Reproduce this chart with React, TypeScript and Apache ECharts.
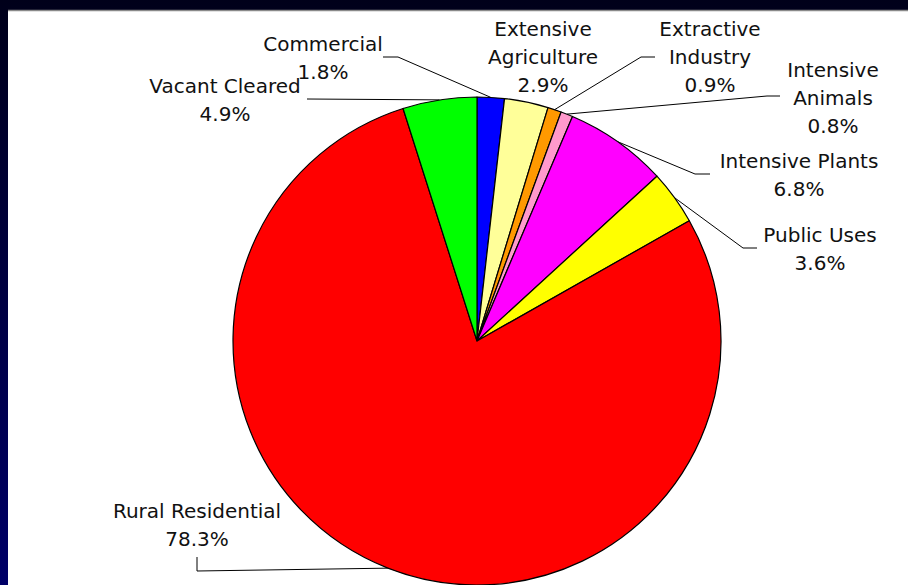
import React, { useEffect, useRef } from 'react';
import * as echarts from 'echarts';

const categories = [
  'Commercial',
  'Extensive Agriculture',
  'Extractive Industry',
  'Intensive Animals',
  'Intensive Plants',
  'Public Uses',
  'Rural Residential',
  'Vacant Cleared',
];
const labelNames = [
  'Commercial',
  'Extensive\nAgriculture',
  'Extractive\nIndustry',
  'Intensive\nAnimals',
  'Intensive Plants',
  'Public Uses',
  'Rural Residential',
  'Vacant Cleared',
];
const shares = [1.8, 2.9, 0.9, 0.8, 6.8, 3.6, 78.3, 4.9];
const colors = ['#0000FF', '#FFFF99', '#FF9900', '#FF99CC', '#FF00FF', '#FFFF00', '#FF0000', '#00FF00'];

// label placement (pixels)
const labelCenters = [
  [323, 58],
  [543, 57],
  [710, 57],
  [833, 97.5],
  [799, 175],
  [820, 248.5],
  [197, 525],
  [225, 100],
];
const leaderBends: number[][][] = [
  [[398, 57], [383, 57]],
  [],
  [[641, 57], [655, 57]],
  [[767, 96], [780, 96]],
  [[695, 174], [710, 174]],
  [[743, 248], [757, 248]],
  [[197, 571], [197, 557]],
  [[307, 99]],
];

const CX = 477;
const CY = 341;
const R = 244;

export default function App() {
  const ref = useRef<HTMLDivElement>(null);
  useEffect(() => {
    if (!ref.current) return;
    const chart = echarts.init(ref.current, null, { renderer: 'svg' });
    const total = shares.reduce((a, b) => a + b, 0);
    const midAngles: number[] = [];
    let acc = 0;
    shares.forEach((v) => {
      midAngles.push(((acc + v / 2) / total) * Math.PI * 2);
      acc += v;
    });
    chart.setOption({
      animation: false,
      backgroundColor: {
        type: 'linear',
        x: 0,
        y: 0,
        x2: 0,
        y2: 1,
        colorStops: [
          { offset: 0, color: '#00001a' },
          { offset: 1, color: '#000068' },
        ],
      },
      graphic: [
        {
          type: 'rect',
          z: -10,
          shape: { x: 8, y: 10, width: 900, height: 575 },
          style: { fill: '#ffffff' },
        },
        {
          type: 'line',
          z: -9,
          shape: { x1: 8, y1: 10.5, x2: 908, y2: 10.5 },
          style: { stroke: '#8a8a8a', lineWidth: 1.5 },
        },
      ],
      series: [
        {
          type: 'pie',
          center: [CX, CY],
          radius: R,
          startAngle: 90,
          clockwise: true,
          avoidLabelOverlap: false,
          itemStyle: { borderColor: '#000', borderWidth: 1.2 },
          label: {
            show: true,
            position: 'outside',
            fontFamily: 'DejaVu Sans',
            fontSize: 20,
            lineHeight: 28,
            color: '#111',
            align: 'center',
            formatter: (p: any) => labelNames[p.dataIndex] + '\n' + shares[p.dataIndex].toFixed(1) + '%',
          },
          labelLine: { show: true, lineStyle: { color: '#000', width: 1 } },
          labelLayout: (params: any) => {
            const i = params.dataIndex;
            const a = midAngles[i];
            const start = [CX + R * Math.sin(a), CY - R * Math.cos(a)];
            const bends = leaderBends[i];
            const res: any = {
              x: labelCenters[i][0],
              y: labelCenters[i][1],
              align: 'center',
              verticalAlign: 'middle',
            };
            if (bends.length) res.labelLinePoints = [start, ...bends];
            return res;
          },
          emphasis: { disabled: true },
          data: categories.map((name, i) => ({
            name,
            value: shares[i],
            itemStyle: { color: colors[i] },
            labelLine: { show: leaderBends[i].length > 0 },
          })),
        },
      ],
    });
    return () => chart.dispose();
  }, []);
  return (
    <div
      ref={ref}
      style={{ position: 'fixed', left: 0, top: 0, width: 908, height: 585 }}
    />
  );
}
